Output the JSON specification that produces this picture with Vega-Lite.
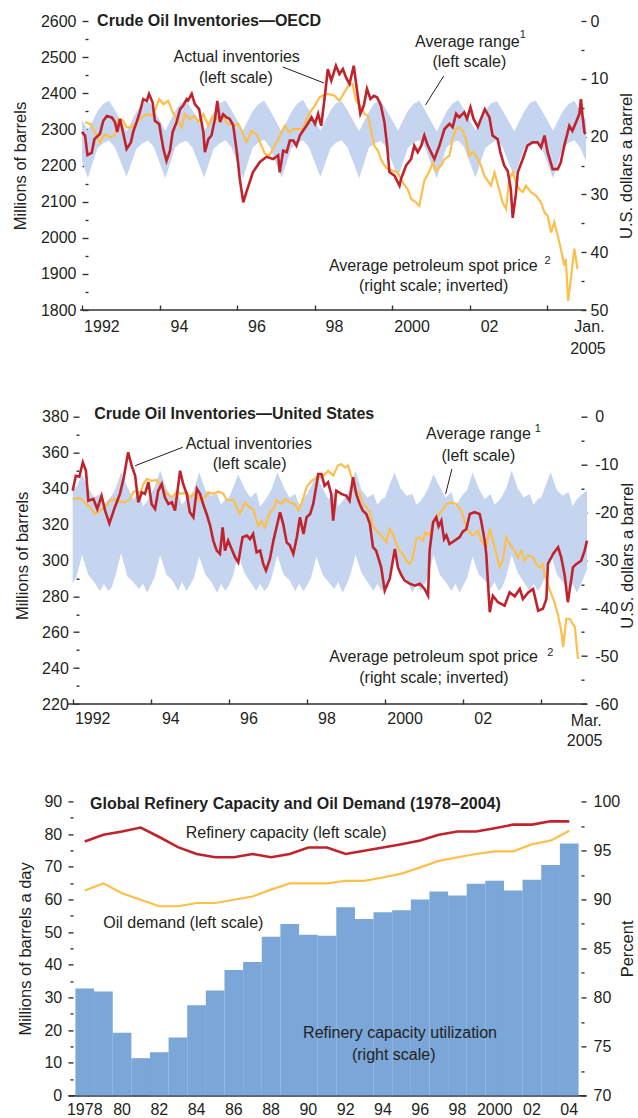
{
"$schema": "https://vega.github.io/schema/vega-lite/v6.json",
"background": "white",
"padding": {"left": 12, "top": 13, "right": 0, "bottom": 0},
"config": {
  "font": "Liberation Sans",
  "view": {"stroke": null},
  "axis": {"labelFont": "Liberation Sans", "labelFontSize": 16, "labelColor": "#231f20", "titleFont": "Liberation Sans", "titleFontSize": 16.5, "titleFontWeight": "normal", "titleColor": "#231f20", "grid": false, "tickColor": "#333333", "tickWidth": 1.4, "domainColor": "#333333", "domainWidth": 1.6, "labelOverlap": false, "labelFlush": false, "labelBound": false},
  "text": {"font": "Liberation Sans", "fontSize": 16, "fill": "#231f20"}
},
"datasets": {
  "band1": [
    {"t":1992.0,"lo":2212,"hi":2325},{"t":1992.15,"lo":2166,"hi":2297},{"t":1992.4,"lo":2248,"hi":2350},{"t":1992.55,"lo":2262,"hi":2371},{"t":1992.7,"lo":2269,"hi":2379},{"t":1992.85,"lo":2250,"hi":2353},
    {"t":1993.15,"lo":2169,"hi":2294},{"t":1993.4,"lo":2246,"hi":2348},{"t":1993.55,"lo":2260,"hi":2369},{"t":1993.7,"lo":2270,"hi":2381},{"t":1993.85,"lo":2252,"hi":2356},
    {"t":1994.15,"lo":2164,"hi":2296},{"t":1994.4,"lo":2250,"hi":2351},{"t":1994.55,"lo":2263,"hi":2373},{"t":1994.7,"lo":2268,"hi":2378},{"t":1994.85,"lo":2249,"hi":2352},
    {"t":1995.15,"lo":2167,"hi":2295},{"t":1995.4,"lo":2247,"hi":2349},{"t":1995.55,"lo":2261,"hi":2372},{"t":1995.7,"lo":2270,"hi":2380},{"t":1995.85,"lo":2251,"hi":2354},
    {"t":1996.15,"lo":2163,"hi":2297},{"t":1996.4,"lo":2249,"hi":2350},{"t":1996.55,"lo":2264,"hi":2370},{"t":1996.7,"lo":2271,"hi":2379},{"t":1996.85,"lo":2250,"hi":2353},
    {"t":1997.15,"lo":2166,"hi":2294},{"t":1997.4,"lo":2248,"hi":2348},{"t":1997.55,"lo":2262,"hi":2371},{"t":1997.7,"lo":2269,"hi":2381},{"t":1997.85,"lo":2252,"hi":2355},
    {"t":1998.15,"lo":2168,"hi":2296},{"t":1998.4,"lo":2246,"hi":2351},{"t":1998.55,"lo":2263,"hi":2372},{"t":1998.7,"lo":2270,"hi":2378},{"t":1998.85,"lo":2250,"hi":2352},
    {"t":1999.15,"lo":2165,"hi":2295},{"t":1999.4,"lo":2249,"hi":2349},{"t":1999.55,"lo":2261,"hi":2373},{"t":1999.7,"lo":2268,"hi":2380},{"t":1999.85,"lo":2251,"hi":2354},
    {"t":2000.15,"lo":2167,"hi":2297},{"t":2000.4,"lo":2247,"hi":2350},{"t":2000.55,"lo":2262,"hi":2370},{"t":2000.7,"lo":2270,"hi":2379},{"t":2000.85,"lo":2249,"hi":2353},
    {"t":2001.15,"lo":2164,"hi":2294},{"t":2001.4,"lo":2250,"hi":2348},{"t":2001.55,"lo":2264,"hi":2371},{"t":2001.7,"lo":2269,"hi":2381},{"t":2001.85,"lo":2252,"hi":2356},
    {"t":2002.15,"lo":2166,"hi":2296},{"t":2002.4,"lo":2248,"hi":2351},{"t":2002.55,"lo":2261,"hi":2372},{"t":2002.7,"lo":2271,"hi":2378},{"t":2002.85,"lo":2250,"hi":2352},
    {"t":2003.15,"lo":2168,"hi":2295},{"t":2003.4,"lo":2246,"hi":2349},{"t":2003.55,"lo":2263,"hi":2373},{"t":2003.7,"lo":2269,"hi":2380},{"t":2003.85,"lo":2251,"hi":2354},
    {"t":2004.15,"lo":2165,"hi":2297},{"t":2004.4,"lo":2249,"hi":2350},{"t":2004.55,"lo":2262,"hi":2370},{"t":2004.7,"lo":2270,"hi":2379},{"t":2004.85,"lo":2250,"hi":2353},
    {"t":2005.0,"lo":2212,"hi":2326}
  ],
  "inv1": [
    {"t":1992.00,"v":2293},{"t":1992.08,"v":2282},{"t":1992.14,"v":2229},{"t":1992.25,"v":2235},{"t":1992.32,"v":2273},{"t":1992.46,"v":2287},{"t":1992.55,"v":2324},{"t":1992.64,"v":2337},{"t":1992.77,"v":2333},{"t":1992.85,"v":2320},{"t":1992.91,"v":2293},{"t":1992.98,"v":2329},
    {"t":1993.05,"v":2296},{"t":1993.15,"v":2246},{"t":1993.26,"v":2264},{"t":1993.32,"v":2293},{"t":1993.41,"v":2320},{"t":1993.49,"v":2347},{"t":1993.58,"v":2384},{"t":1993.67,"v":2379},{"t":1993.73,"v":2398},{"t":1993.82,"v":2375},{"t":1993.88,"v":2324},{"t":1993.99,"v":2315},
    {"t":1994.10,"v":2246},{"t":1994.18,"v":2213},{"t":1994.27,"v":2241},{"t":1994.34,"v":2293},{"t":1994.44,"v":2320},{"t":1994.53,"v":2356},{"t":1994.61,"v":2366},{"t":1994.70,"v":2384},{"t":1994.74,"v":2380},{"t":1994.83,"v":2398},{"t":1994.91,"v":2370},
    {"t":1995.02,"v":2356},{"t":1995.13,"v":2293},{"t":1995.17,"v":2237},{"t":1995.26,"v":2273},{"t":1995.34,"v":2283},{"t":1995.43,"v":2329},{"t":1995.49,"v":2379},{"t":1995.56,"v":2320},{"t":1995.64,"v":2342},{"t":1995.73,"v":2333},{"t":1995.81,"v":2329},{"t":1995.90,"v":2311},
    {"t":1996.00,"v":2232},{"t":1996.07,"v":2163},{"t":1996.16,"v":2098},{"t":1996.24,"v":2126},{"t":1996.41,"v":2182},{"t":1996.59,"v":2210},{"t":1996.76,"v":2224},{"t":1996.93,"v":2218},
    {"t":1997.06,"v":2228},{"t":1997.10,"v":2181},{"t":1997.19,"v":2241},{"t":1997.28,"v":2237},{"t":1997.36,"v":2269},{"t":1997.45,"v":2269},{"t":1997.53,"v":2255},{"t":1997.62,"v":2283},{"t":1997.70,"v":2296},{"t":1997.79,"v":2310},{"t":1997.92,"v":2333},
    {"t":1998.01,"v":2315},{"t":1998.09,"v":2343},{"t":1998.17,"v":2310},{"t":1998.27,"v":2398},{"t":1998.34,"v":2467},{"t":1998.43,"v":2435},{"t":1998.55,"v":2476},{"t":1998.64,"v":2453},{"t":1998.73,"v":2467},{"t":1998.81,"v":2444},{"t":1998.90,"v":2426},
    {"t":1999.01,"v":2476},{"t":1999.10,"v":2403},{"t":1999.18,"v":2343},{"t":1999.27,"v":2366},{"t":1999.35,"v":2412},{"t":1999.44,"v":2384},{"t":1999.53,"v":2393},{"t":1999.61,"v":2389},{"t":1999.71,"v":2366},{"t":1999.80,"v":2320},{"t":1999.87,"v":2255},{"t":1999.93,"v":2182},
    {"t":2000.06,"v":2172},{"t":2000.19,"v":2144},{"t":2000.23,"v":2163},{"t":2000.36,"v":2200},{"t":2000.49,"v":2218},{"t":2000.57,"v":2255},{"t":2000.66,"v":2237},{"t":2000.75,"v":2255},{"t":2000.83,"v":2283},{"t":2000.92,"v":2255},
    {"t":2001.00,"v":2237},{"t":2001.09,"v":2218},{"t":2001.22,"v":2255},{"t":2001.35,"v":2301},{"t":2001.48,"v":2315},{"t":2001.56,"v":2306},{"t":2001.65,"v":2343},{"t":2001.73,"v":2333},{"t":2001.86,"v":2347},{"t":2001.93,"v":2329},
    {"t":2002.02,"v":2361},{"t":2002.10,"v":2329},{"t":2002.21,"v":2307},{"t":2002.29,"v":2329},{"t":2002.39,"v":2356},{"t":2002.51,"v":2333},{"t":2002.59,"v":2283},{"t":2002.72,"v":2273},{"t":2002.79,"v":2237},{"t":2002.89,"v":2200},{"t":2002.98,"v":2185},
    {"t":2003.06,"v":2135},{"t":2003.11,"v":2055},{"t":2003.19,"v":2120},{"t":2003.24,"v":2181},{"t":2003.37,"v":2218},{"t":2003.49,"v":2255},{"t":2003.62,"v":2264},{"t":2003.75,"v":2264},{"t":2003.84,"v":2250},{"t":2003.93,"v":2283},
    {"t":2004.01,"v":2237},{"t":2004.14,"v":2190},{"t":2004.27,"v":2190},{"t":2004.35,"v":2209},{"t":2004.44,"v":2255},{"t":2004.57,"v":2310},{"t":2004.65,"v":2296},{"t":2004.74,"v":2319},{"t":2004.83,"v":2343},{"t":2004.87,"v":2384},{"t":2004.91,"v":2338},{"t":2004.96,"v":2292},{"t":2004.99,"v":2287}
  ],
  "price1": [
    {"t":1992.08,"p":17.5},{"t":1992.21,"p":17.8},{"t":1992.34,"p":19.3},{"t":1992.46,"p":21.0},{"t":1992.59,"p":19.6},{"t":1992.72,"p":20.1},{"t":1992.85,"p":19.8},{"t":1992.94,"p":17.0},
    {"t":1993.06,"p":17.2},{"t":1993.15,"p":18.4},{"t":1993.28,"p":18.4},{"t":1993.41,"p":17.5},{"t":1993.54,"p":16.7},{"t":1993.67,"p":16.1},{"t":1993.80,"p":16.4},{"t":1993.88,"p":15.5},{"t":1993.99,"p":13.5},
    {"t":1994.10,"p":14.4},{"t":1994.22,"p":13.8},{"t":1994.34,"p":15.8},{"t":1994.44,"p":17.0},{"t":1994.57,"p":18.4},{"t":1994.65,"p":16.1},{"t":1994.78,"p":17.0},{"t":1994.91,"p":16.4},
    {"t":1995.00,"p":17.5},{"t":1995.13,"p":16.1},{"t":1995.26,"p":18.1},{"t":1995.38,"p":16.4},{"t":1995.51,"p":17.0},{"t":1995.64,"p":16.7},{"t":1995.77,"p":17.8},{"t":1995.90,"p":18.1},
    {"t":1996.03,"p":17.8},{"t":1996.14,"p":19.3},{"t":1996.24,"p":21.0},{"t":1996.37,"p":19.0},{"t":1996.50,"p":19.6},{"t":1996.59,"p":21.0},{"t":1996.72,"p":23.0},{"t":1996.83,"p":23.3},{"t":1996.93,"p":22.1},
    {"t":1997.06,"p":20.4},{"t":1997.17,"p":19.0},{"t":1997.23,"p":18.1},{"t":1997.36,"p":19.3},{"t":1997.45,"p":18.7},{"t":1997.58,"p":18.7},{"t":1997.70,"p":18.7},{"t":1997.79,"p":17.0},{"t":1997.88,"p":15.8},
    {"t":1998.01,"p":14.6},{"t":1998.13,"p":13.2},{"t":1998.21,"p":12.9},{"t":1998.34,"p":12.6},{"t":1998.51,"p":12.9},{"t":1998.64,"p":13.8},{"t":1998.77,"p":12.3},{"t":1998.90,"p":10.9},{"t":1998.98,"p":10.9},
    {"t":1999.07,"p":13.8},{"t":1999.20,"p":14.9},{"t":1999.29,"p":16.1},{"t":1999.37,"p":16.4},{"t":1999.46,"p":19.0},{"t":1999.54,"p":21.6},{"t":1999.63,"p":22.4},{"t":1999.71,"p":23.9},{"t":1999.80,"p":25.0},{"t":1999.89,"p":25.6},
    {"t":2000.14,"p":26.2},{"t":2000.27,"p":27.9},{"t":2000.40,"p":29.1},{"t":2000.49,"p":30.8},{"t":2000.62,"p":31.4},{"t":2000.70,"p":32.0},{"t":2000.83,"p":27.6},{"t":2000.96,"p":26.0},
    {"t":2001.05,"p":24.5},{"t":2001.13,"p":25.9},{"t":2001.26,"p":25.0},{"t":2001.35,"p":23.9},{"t":2001.48,"p":23.3},{"t":2001.56,"p":20.4},{"t":2001.65,"p":18.7},{"t":2001.73,"p":18.4},{"t":2001.82,"p":19.0},{"t":2001.90,"p":20.4},{"t":2001.99,"p":23.3},
    {"t":2002.08,"p":22.7},{"t":2002.16,"p":23.3},{"t":2002.29,"p":25.0},{"t":2002.38,"p":26.8},{"t":2002.55,"p":28.5},{"t":2002.64,"p":26.2},{"t":2002.76,"p":29.1},{"t":2002.85,"p":31.4},{"t":2002.94,"p":32.5},
    {"t":2003.02,"p":27.3},{"t":2003.11,"p":26.2},{"t":2003.19,"p":27.9},{"t":2003.28,"p":29.1},{"t":2003.37,"p":29.6},{"t":2003.45,"p":28.5},{"t":2003.58,"p":29.6},{"t":2003.71,"p":30.2},{"t":2003.84,"p":31.4},{"t":2003.93,"p":33.1},
    {"t":2004.01,"p":33.7},{"t":2004.10,"p":36.6},{"t":2004.18,"p":34.8},{"t":2004.27,"p":37.1},{"t":2004.35,"p":39.4},{"t":2004.44,"p":42.3},{"t":2004.48,"p":41.2},{"t":2004.54,"p":48.4},{"t":2004.61,"p":44.6},{"t":2004.70,"p":39.4},{"t":2004.78,"p":42.9}
  ],
  "band2": [
    {"t":1992.00,"hi":340,"lo":287},{"t":1992.10,"hi":341,"lo":291},{"t":1992.24,"hi":348,"lo":303},{"t":1992.40,"hi":340,"lo":292},{"t":1992.55,"hi":335,"lo":288},{"t":1992.70,"hi":337,"lo":283},{"t":1992.80,"hi":331,"lo":287},{"t":1992.91,"hi":334,"lo":283},
    {"t":1993.00,"hi":336,"lo":285},{"t":1993.10,"hi":340,"lo":292},{"t":1993.24,"hi":349,"lo":304},{"t":1993.40,"hi":341,"lo":291},{"t":1993.55,"hi":334,"lo":288},{"t":1993.70,"hi":338,"lo":284},{"t":1993.80,"hi":330,"lo":287},{"t":1993.91,"hi":333,"lo":282},
    {"t":1994.00,"hi":337,"lo":286},{"t":1994.10,"hi":341,"lo":291},{"t":1994.24,"hi":350,"lo":303},{"t":1994.40,"hi":340,"lo":292},{"t":1994.55,"hi":335,"lo":289},{"t":1994.70,"hi":337,"lo":283},{"t":1994.80,"hi":331,"lo":288},{"t":1994.91,"hi":334,"lo":283},
    {"t":1995.00,"hi":336,"lo":286},{"t":1995.10,"hi":339,"lo":290},{"t":1995.24,"hi":349,"lo":302},{"t":1995.40,"hi":339,"lo":292},{"t":1995.55,"hi":336,"lo":288},{"t":1995.70,"hi":337,"lo":282},{"t":1995.80,"hi":331,"lo":287},{"t":1995.91,"hi":334,"lo":283},
    {"t":1996.00,"hi":335,"lo":286},{"t":1996.10,"hi":340,"lo":291},{"t":1996.24,"hi":348,"lo":303},{"t":1996.40,"hi":340,"lo":293},{"t":1996.55,"hi":335,"lo":288},{"t":1996.70,"hi":338,"lo":283},{"t":1996.80,"hi":330,"lo":287},{"t":1996.91,"hi":333,"lo":283},
    {"t":1997.00,"hi":336,"lo":285},{"t":1997.10,"hi":340,"lo":291},{"t":1997.24,"hi":349,"lo":303},{"t":1997.40,"hi":341,"lo":292},{"t":1997.55,"hi":335,"lo":289},{"t":1997.70,"hi":337,"lo":283},{"t":1997.80,"hi":331,"lo":287},{"t":1997.91,"hi":334,"lo":283},
    {"t":1998.00,"hi":337,"lo":286},{"t":1998.10,"hi":341,"lo":290},{"t":1998.24,"hi":348,"lo":302},{"t":1998.40,"hi":340,"lo":292},{"t":1998.55,"hi":334,"lo":288},{"t":1998.70,"hi":338,"lo":284},{"t":1998.80,"hi":330,"lo":288},{"t":1998.91,"hi":333,"lo":282},
    {"t":1999.00,"hi":336,"lo":286},{"t":1999.10,"hi":340,"lo":291},{"t":1999.24,"hi":350,"lo":303},{"t":1999.40,"hi":339,"lo":293},{"t":1999.55,"hi":335,"lo":288},{"t":1999.70,"hi":337,"lo":283},{"t":1999.80,"hi":331,"lo":287},{"t":1999.91,"hi":334,"lo":283},
    {"t":2000.00,"hi":335,"lo":285},{"t":2000.10,"hi":341,"lo":292},{"t":2000.24,"hi":349,"lo":304},{"t":2000.40,"hi":340,"lo":291},{"t":2000.55,"hi":336,"lo":289},{"t":2000.70,"hi":337,"lo":282},{"t":2000.80,"hi":331,"lo":287},{"t":2000.91,"hi":333,"lo":283},
    {"t":2001.00,"hi":336,"lo":286},{"t":2001.10,"hi":340,"lo":291},{"t":2001.24,"hi":348,"lo":303},{"t":2001.40,"hi":341,"lo":292},{"t":2001.55,"hi":335,"lo":288},{"t":2001.70,"hi":338,"lo":283},{"t":2001.80,"hi":330,"lo":287},{"t":2001.91,"hi":334,"lo":282},
    {"t":2002.00,"hi":337,"lo":286},{"t":2002.10,"hi":339,"lo":290},{"t":2002.24,"hi":349,"lo":302},{"t":2002.40,"hi":340,"lo":292},{"t":2002.55,"hi":334,"lo":289},{"t":2002.70,"hi":337,"lo":284},{"t":2002.80,"hi":331,"lo":288},{"t":2002.91,"hi":333,"lo":283},
    {"t":2003.00,"hi":336,"lo":285},{"t":2003.10,"hi":340,"lo":291},{"t":2003.24,"hi":350,"lo":303},{"t":2003.40,"hi":340,"lo":293},{"t":2003.55,"hi":335,"lo":288},{"t":2003.70,"hi":337,"lo":283},{"t":2003.80,"hi":331,"lo":287},{"t":2003.91,"hi":334,"lo":283},
    {"t":2004.00,"hi":335,"lo":286},{"t":2004.10,"hi":341,"lo":291},{"t":2004.24,"hi":349,"lo":304},{"t":2004.40,"hi":339,"lo":292},{"t":2004.55,"hi":336,"lo":288},{"t":2004.70,"hi":338,"lo":283},{"t":2004.80,"hi":330,"lo":287},{"t":2004.91,"hi":334,"lo":282},
    {"t":2005.00,"hi":336,"lo":286},{"t":2005.17,"hi":339,"lo":295}
  ],
  "inv2": [
    {"t":1992.00,"v":338.8},{"t":1992.08,"v":347.1},{"t":1992.17,"v":346.6},{"t":1992.26,"v":354.6},{"t":1992.34,"v":349.9},{"t":1992.40,"v":333.2},{"t":1992.53,"v":334.2},{"t":1992.63,"v":328.6},{"t":1992.74,"v":336.0},{"t":1992.83,"v":327.7},{"t":1992.94,"v":320.6},
    {"t":1993.08,"v":329.6},{"t":1993.21,"v":337.0},{"t":1993.31,"v":346.3},{"t":1993.42,"v":360.2},{"t":1993.51,"v":352.7},{"t":1993.60,"v":347.1},{"t":1993.68,"v":332.3},{"t":1993.77,"v":337.9},{"t":1993.85,"v":337.0},{"t":1993.94,"v":343.5},
    {"t":1994.02,"v":331.4},{"t":1994.11,"v":328.6},{"t":1994.19,"v":338.8},{"t":1994.28,"v":342.5},{"t":1994.36,"v":335.1},{"t":1994.45,"v":331.4},{"t":1994.54,"v":332.3},{"t":1994.62,"v":327.7},{"t":1994.75,"v":349.9},{"t":1994.83,"v":342.5},{"t":1994.92,"v":337.0},
    {"t":1995.00,"v":326.8},{"t":1995.09,"v":324.0},{"t":1995.18,"v":339.8},{"t":1995.26,"v":337.0},{"t":1995.34,"v":331.4},{"t":1995.43,"v":325.8},{"t":1995.52,"v":319.3},{"t":1995.60,"v":311.0},{"t":1995.69,"v":305.4},{"t":1995.77,"v":303.6},{"t":1995.84,"v":318.4},{"t":1995.90,"v":305.4},{"t":1995.98,"v":311.0},
    {"t":1996.07,"v":306.3},{"t":1996.16,"v":301.7},{"t":1996.24,"v":298.9},{"t":1996.35,"v":312.9},{"t":1996.46,"v":313.8},{"t":1996.54,"v":311.9},{"t":1996.62,"v":314.7},{"t":1996.71,"v":304.5},{"t":1996.80,"v":305.4},{"t":1996.88,"v":298.0},{"t":1996.95,"v":294.3},
    {"t":1997.05,"v":300.8},{"t":1997.14,"v":311.0},{"t":1997.22,"v":318.4},{"t":1997.31,"v":326.8},{"t":1997.39,"v":320.3},{"t":1997.48,"v":310.0},{"t":1997.56,"v":308.4},{"t":1997.65,"v":303.6},{"t":1997.74,"v":312.9},{"t":1997.82,"v":324.0},{"t":1997.91,"v":314.7},{"t":1997.99,"v":324.0},
    {"t":1998.08,"v":325.8},{"t":1998.16,"v":331.4},{"t":1998.29,"v":348.1},{"t":1998.37,"v":348.1},{"t":1998.45,"v":341.6},{"t":1998.54,"v":343.5},{"t":1998.62,"v":337.0},{"t":1998.67,"v":322.1},{"t":1998.75,"v":338.8},{"t":1998.88,"v":337.0},
    {"t":1999.01,"v":336.0},{"t":1999.09,"v":333.2},{"t":1999.18,"v":346.3},{"t":1999.26,"v":337.0},{"t":1999.35,"v":331.4},{"t":1999.43,"v":327.7},{"t":1999.52,"v":325.8},{"t":1999.61,"v":320.3},{"t":1999.69,"v":307.3},{"t":1999.77,"v":305.4},{"t":1999.90,"v":296.1},{"t":1999.99,"v":283.1},
    {"t":2000.12,"v":290.0},{"t":2000.25,"v":306.3},{"t":2000.33,"v":296.0},{"t":2000.41,"v":292.0},{"t":2000.50,"v":288.7},{"t":2000.63,"v":287.0},{"t":2000.76,"v":285.9},{"t":2000.89,"v":287.0},
    {"t":2001.01,"v":284.1},{"t":2001.10,"v":280.3},{"t":2001.14,"v":305.4},{"t":2001.23,"v":321.2},{"t":2001.31,"v":324.0},{"t":2001.37,"v":319.0},{"t":2001.44,"v":322.1},{"t":2001.51,"v":311.9},{"t":2001.57,"v":314.0},{"t":2001.65,"v":309.1},{"t":2001.78,"v":311.0},{"t":2001.91,"v":312.9},{"t":2001.99,"v":316.0},
    {"t":2002.08,"v":317.5},{"t":2002.17,"v":325.8},{"t":2002.29,"v":326.8},{"t":2002.42,"v":325.8},{"t":2002.46,"v":322.1},{"t":2002.55,"v":311.0},{"t":2002.59,"v":303.6},{"t":2002.68,"v":271.1},{"t":2002.76,"v":280.3},{"t":2002.89,"v":276.7},
    {"t":2003.06,"v":274.8},{"t":2003.19,"v":282.2},{"t":2003.32,"v":280.0},{"t":2003.45,"v":284.1},{"t":2003.53,"v":278.5},{"t":2003.66,"v":282.0},{"t":2003.79,"v":284.1},{"t":2003.92,"v":272.0},
    {"t":2004.04,"v":273.0},{"t":2004.13,"v":278.5},{"t":2004.17,"v":298.0},{"t":2004.30,"v":303.6},{"t":2004.43,"v":307.3},{"t":2004.51,"v":301.7},{"t":2004.60,"v":291.5},{"t":2004.68,"v":276.7},{"t":2004.73,"v":284.0},{"t":2004.77,"v":289.6},{"t":2004.81,"v":296.1},{"t":2004.90,"v":298.0},
    {"t":2005.02,"v":299.8},{"t":2005.11,"v":305.4},{"t":2005.17,"v":311.0}
  ],
  "price2": [
    {"t":1992.00,"p":-17.2},{"t":1992.19,"p":-17.0},{"t":1992.31,"p":-17.9},{"t":1992.44,"p":-18.9},{"t":1992.57,"p":-20.3},{"t":1992.70,"p":-19.6},{"t":1992.83,"p":-18.9},{"t":1992.96,"p":-17.5},
    {"t":1993.08,"p":-17.2},{"t":1993.21,"p":-17.7},{"t":1993.34,"p":-17.9},{"t":1993.47,"p":-17.2},{"t":1993.55,"p":-15.8},{"t":1993.64,"p":-15.4},{"t":1993.72,"p":-16.1},{"t":1993.81,"p":-14.1},{"t":1993.90,"p":-13.0},
    {"t":1994.02,"p":-13.4},{"t":1994.15,"p":-13.2},{"t":1994.28,"p":-14.7},{"t":1994.41,"p":-16.1},{"t":1994.54,"p":-16.8},{"t":1994.66,"p":-15.8},{"t":1994.79,"p":-16.1},{"t":1994.92,"p":-15.8},
    {"t":1995.00,"p":-16.8},{"t":1995.13,"p":-16.1},{"t":1995.26,"p":-17.5},{"t":1995.39,"p":-16.8},{"t":1995.47,"p":-15.8},{"t":1995.60,"p":-16.1},{"t":1995.73,"p":-15.6},{"t":1995.86,"p":-16.1},{"t":1995.94,"p":-17.4},
    {"t":1996.11,"p":-17.4},{"t":1996.20,"p":-18.9},{"t":1996.28,"p":-20.3},{"t":1996.41,"p":-17.9},{"t":1996.54,"p":-19.0},{"t":1996.62,"p":-19.3},{"t":1996.75,"p":-22.8},{"t":1996.84,"p":-21.8},{"t":1996.92,"p":-23.1},
    {"t":1997.05,"p":-20.0},{"t":1997.14,"p":-19.3},{"t":1997.22,"p":-17.5},{"t":1997.35,"p":-18.2},{"t":1997.44,"p":-17.2},{"t":1997.56,"p":-17.9},{"t":1997.69,"p":-18.2},{"t":1997.78,"p":-19.6},{"t":1997.86,"p":-18.2},{"t":1997.99,"p":-14.7},
    {"t":1998.12,"p":-13.4},{"t":1998.25,"p":-12.7},{"t":1998.41,"p":-12.4},{"t":1998.54,"p":-11.3},{"t":1998.67,"p":-12.3},{"t":1998.79,"p":-10.2},{"t":1998.88,"p":-9.9},{"t":1998.97,"p":-10.6},
    {"t":1999.05,"p":-10.2},{"t":1999.13,"p":-12.3},{"t":1999.18,"p":-13.4},{"t":1999.26,"p":-15.5},{"t":1999.35,"p":-16.1},{"t":1999.43,"p":-18.2},{"t":1999.52,"p":-18.9},{"t":1999.61,"p":-20.0},{"t":1999.69,"p":-22.8},{"t":1999.77,"p":-23.8},{"t":1999.86,"p":-24.5},{"t":1999.94,"p":-25.2},
    {"t":2000.03,"p":-26.2},{"t":2000.12,"p":-23.4},{"t":2000.20,"p":-24.5},{"t":2000.29,"p":-26.6},{"t":2000.37,"p":-28.0},{"t":2000.46,"p":-28.7},{"t":2000.54,"p":-30.1},{"t":2000.63,"p":-30.8},{"t":2000.71,"p":-29.4},{"t":2000.80,"p":-25.5},{"t":2000.89,"p":-25.2},{"t":2000.97,"p":-25.9},
    {"t":2001.03,"p":-24.1},{"t":2001.14,"p":-24.8},{"t":2001.23,"p":-22.0},{"t":2001.31,"p":-21.0},{"t":2001.46,"p":-19.6},{"t":2001.57,"p":-18.2},{"t":2001.70,"p":-17.9},{"t":2001.82,"p":-18.2},{"t":2001.95,"p":-19.6},
    {"t":2002.04,"p":-22.0},{"t":2002.12,"p":-23.8},{"t":2002.25,"p":-24.8},{"t":2002.38,"p":-23.8},{"t":2002.46,"p":-25.9},{"t":2002.59,"p":-27.3},{"t":2002.68,"p":-23.4},{"t":2002.76,"p":-25.9},{"t":2002.85,"p":-28.7},{"t":2002.93,"p":-31.4},
    {"t":2003.02,"p":-30.0},{"t":2003.10,"p":-25.2},{"t":2003.19,"p":-26.6},{"t":2003.32,"p":-28.0},{"t":2003.40,"p":-29.4},{"t":2003.49,"p":-28.0},{"t":2003.57,"p":-30.1},{"t":2003.66,"p":-29.0},{"t":2003.79,"p":-29.4},{"t":2003.87,"p":-30.8},{"t":2003.96,"p":-31.4},
    {"t":2004.04,"p":-30.8},{"t":2004.09,"p":-33.2},{"t":2004.21,"p":-36.0},{"t":2004.34,"p":-38.8},{"t":2004.43,"p":-41.5},{"t":2004.51,"p":-44.7},{"t":2004.56,"p":-48.1},{"t":2004.64,"p":-42.2},{"t":2004.73,"p":-42.2},{"t":2004.86,"p":-44.0},{"t":2004.94,"p":-50.6}
  ],
  "refin": [
    {"year":1978,"capacity":77.7,"demand":62.7,"util":80.9},
    {"year":1979,"capacity":79.8,"demand":64.9,"util":80.6},
    {"year":1980,"capacity":80.8,"demand":61.9,"util":76.4},
    {"year":1981,"capacity":82.0,"demand":59.9,"util":73.8},
    {"year":1982,"capacity":79.1,"demand":57.9,"util":74.4},
    {"year":1983,"capacity":76.0,"demand":57.9,"util":75.9},
    {"year":1984,"capacity":73.9,"demand":58.9,"util":79.2},
    {"year":1985,"capacity":72.9,"demand":58.9,"util":80.7},
    {"year":1986,"capacity":72.9,"demand":59.9,"util":82.8},
    {"year":1987,"capacity":73.9,"demand":60.9,"util":83.6},
    {"year":1988,"capacity":72.9,"demand":63.0,"util":86.2},
    {"year":1989,"capacity":73.9,"demand":64.9,"util":87.5},
    {"year":1990,"capacity":75.9,"demand":64.9,"util":86.4},
    {"year":1991,"capacity":75.9,"demand":64.9,"util":86.3},
    {"year":1992,"capacity":73.9,"demand":65.7,"util":89.2},
    {"year":1993,"capacity":74.9,"demand":65.7,"util":88.0},
    {"year":1994,"capacity":75.9,"demand":66.7,"util":88.7},
    {"year":1995,"capacity":76.9,"demand":67.9,"util":88.9},
    {"year":1996,"capacity":78.0,"demand":69.8,"util":90.0},
    {"year":1997,"capacity":79.8,"demand":71.8,"util":90.8},
    {"year":1998,"capacity":80.8,"demand":72.9,"util":90.4},
    {"year":1999,"capacity":80.8,"demand":73.9,"util":91.6},
    {"year":2000,"capacity":81.8,"demand":74.7,"util":91.9},
    {"year":2001,"capacity":82.9,"demand":74.7,"util":90.9},
    {"year":2002,"capacity":82.9,"demand":76.9,"util":92.0},
    {"year":2003,"capacity":83.9,"demand":78.0,"util":93.5},
    {"year":2004,"capacity":83.9,"demand":81.0,"util":95.7}
  ]
},
"bounds": "flush",
"spacing": 96.7,
"vconcat": [
{
  "width": 518, "height": 289,
  "layer": [
    {"data": {"name": "band1"}, "mark": {"type": "area", "color": "#c5d5ef"},
     "encoding": {
       "x": {"field": "t", "type": "quantitative", "scale": {"domain": [1991.639, 2005], "nice": false, "zero": false},
             "axis": {"values": [1992,1993,1994,1995,1996,1997,1998,1999,2000,2001,2002,2003,2004,2005], "offset": -5, "tickSize": 5, "domain": false, "title": null, "labelPadding": 8, "labelOffset": 19.4, "labelOverlap": false,
                      "labelExpr": "datum.value == 1992 ? '1992' : datum.value == 1994 ? '94' : datum.value == 1996 ? '96' : datum.value == 1998 ? '98' : datum.value == 2000 ? '2000' : datum.value == 2002 ? '02' : ''"}},
       "y": {"field": "lo", "type": "quantitative", "scale": {"domain": [1800, 2600], "nice": false, "zero": false},
             "axis": {"orient": "left", "values": [1800,1850,1900,1950,2000,2050,2100,2150,2200,2250,2300,2350,2400,2450,2500,2550,2600], "format": "d", "labelExpr": "datum.value % 100 == 0 ? datum.label : ''", "offset": -20, "tickSize": {"condition": {"test": "datum.value % 100 == 0", "value": 6}, "value": 3}, "labelPadding": 6, "domain": false, "title": "Millions of barrels", "titlePadding": 12}},
       "y2": {"field": "hi"}}},
    {"data": {"name": "price1"}, "mark": {"type": "line", "color": "#fdbf4c", "strokeWidth": 2.2},
     "encoding": {
       "x": {"field": "t", "type": "quantitative"},
       "y": {"field": "p", "type": "quantitative", "scale": {"domain": [0, 50], "reverse": true, "nice": false, "zero": false},
             "axis": {"orient": "right", "values": [0,5,10,15,20,25,30,35,40,45,50], "labelExpr": "datum.value % 10 == 0 ? datum.label : ''", "offset": -5, "tickSize": {"condition": {"test": "datum.value % 10 == 0", "value": 5}, "value": 3}, "labelPadding": 4, "domain": false, "title": "U.S. dollars a barrel", "titleAngle": 270, "titleBaseline": "top", "titlePadding": 11}}}},
    {"layer": [
      {"data": {"name": "inv1"}, "mark": {"type": "line", "color": "#c1232d", "strokeWidth": 2.6},
       "encoding": {"x": {"field": "t", "type": "quantitative"}, "y": {"field": "v", "type": "quantitative", "scale": {"domain": [1800, 2600], "nice": false, "zero": false}, "axis": null}}},
      {"data": {"values": [{}]}, "mark": {"type": "rule", "color": "#333333", "strokeWidth": 1.6}, "encoding": {"x": {"datum": 1991.95}, "x2": {"datum": 2005}, "y": {"datum": 1800, "axis": null}}},
      {"data": {"values": [{}]}, "mark": {"type": "text", "align": "center", "baseline": "middle", "text": "Jan."}, "encoding": {"x": {"datum": 2005.09}, "y": {"datum": 1753, "axis": null}}},
      {"data": {"values": [{}]}, "mark": {"type": "text", "align": "center", "baseline": "middle", "text": "2005"}, "encoding": {"x": {"datum": 2005.05}, "y": {"datum": 1692, "axis": null}}},
      {"data": {"values": [{}]}, "mark": {"type": "text", "align": "left", "baseline": "middle", "fontWeight": "bold", "fontSize": 16, "text": "Crude Oil Inventories—OECD"}, "encoding": {"x": {"datum": 1992.39}, "y": {"datum": 2600, "axis": null}}},
      {"data": {"values": [{}]}, "mark": {"type": "text", "align": "center", "baseline": "middle", "text": "Actual inventories"}, "encoding": {"x": {"datum": 1995.99}, "y": {"datum": 2500.3, "axis": null}}},
      {"data": {"values": [{}]}, "mark": {"type": "text", "align": "center", "baseline": "middle", "text": "(left scale)"}, "encoding": {"x": {"datum": 1995.97}, "y": {"datum": 2442, "axis": null}}},
      {"data": {"values": [{}]}, "mark": {"type": "rule", "color": "#231f20", "strokeWidth": 1}, "encoding": {"x": {"datum": 1997.18}, "y": {"datum": 2472.7, "axis": null}, "x2": {"datum": 1998.24}, "y2": {"datum": 2428.4}}},
      {"data": {"values": [{}]}, "mark": {"type": "text", "align": "center", "baseline": "middle", "text": "Average range"}, "encoding": {"x": {"datum": 2001.94}, "y": {"datum": 2541.9, "axis": null}}},
      {"data": {"values": [{}]}, "mark": {"type": "text", "align": "left", "baseline": "middle", "fontSize": 11, "text": "1"}, "encoding": {"x": {"datum": 2003.29}, "y": {"datum": 2561, "axis": null}}},
      {"data": {"values": [{}]}, "mark": {"type": "text", "align": "center", "baseline": "middle", "text": "(left scale)"}, "encoding": {"x": {"datum": 2001.99}, "y": {"datum": 2486.5, "axis": null}}},
      {"data": {"values": [{}]}, "mark": {"type": "rule", "color": "#231f20", "strokeWidth": 1}, "encoding": {"x": {"datum": 2001.33}, "y": {"datum": 2447.8, "axis": null}, "x2": {"datum": 2000.86}, "y2": {"datum": 2367.5}}},
      {"data": {"values": [{}]}, "mark": {"type": "text", "align": "center", "baseline": "middle", "text": "Average petroleum spot price"}, "encoding": {"x": {"datum": 2001.06}, "y": {"datum": 1922.6, "axis": null}}},
      {"data": {"values": [{}]}, "mark": {"type": "text", "align": "left", "baseline": "middle", "fontSize": 11, "text": "2"}, "encoding": {"x": {"datum": 2003.93}, "y": {"datum": 1936.5, "axis": null}}},
      {"data": {"values": [{}]}, "mark": {"type": "text", "align": "center", "baseline": "middle", "text": "(right scale; inverted)"}, "encoding": {"x": {"datum": 2001.07}, "y": {"datum": 1867.3, "axis": null}}}
    ]}
  ],
  "resolve": {"scale": {"y": "independent"}}
},
{
  "width": 519, "height": 297.3,
  "layer": [
    {"data": {"name": "band2"}, "mark": {"type": "area", "color": "#c5d5ef"},
     "encoding": {
       "x": {"field": "t", "type": "quantitative", "scale": {"domain": [1991.88, 2005.17], "nice": false, "zero": false},
             "axis": {"values": [1992,1993,1994,1995,1996,1997,1998,1999,2000,2001,2002,2003,2004,2005], "offset": -5, "tickSize": 5, "domain": false, "title": null, "labelPadding": 6, "labelOffset": 19.5, "labelOverlap": false,
                      "labelExpr": "datum.value == 1992 ? '1992' : datum.value == 1994 ? '94' : datum.value == 1996 ? '96' : datum.value == 1998 ? '98' : datum.value == 2000 ? '2000' : datum.value == 2002 ? '02' : ''"}},
       "y": {"field": "lo", "type": "quantitative", "scale": {"domain": [220, 385.57], "nice": false, "zero": false},
             "axis": {"orient": "left", "values": [220,230,240,250,260,270,280,290,300,310,320,330,340,350,360,370,380], "labelExpr": "datum.value % 20 == 0 ? datum.label : ''", "offset": -11, "tickSize": {"condition": {"test": "datum.value % 20 == 0", "value": 6}, "value": 3}, "labelPadding": 4.7, "domain": false, "title": "Millions of barrels", "titlePadding": 10.8}},
       "y2": {"field": "hi"}}},
    {"data": {"name": "price2"}, "mark": {"type": "line", "color": "#fdbf4c", "strokeWidth": 2.2},
     "encoding": {
       "x": {"field": "t", "type": "quantitative"},
       "y": {"field": "p", "type": "quantitative", "scale": {"domain": [-60, 2.09], "nice": false, "zero": false},
             "axis": {"orient": "right", "values": [-60,-55,-50,-45,-40,-35,-30,-25,-20,-15,-10,-5,0], "labelExpr": "datum.value % 10 == 0 ? toString(datum.value) : ''", "offset": -6, "tickSize": {"condition": {"test": "datum.value % 10 == 0", "value": 6}, "value": 3}, "labelPadding": 7.7, "domain": false, "title": "U.S. dollars a barrel", "titleAngle": 270, "titleBaseline": "top", "titlePadding": 2}}}},
    {"layer": [
      {"data": {"name": "inv2"}, "mark": {"type": "line", "color": "#c1232d", "strokeWidth": 2.6},
       "encoding": {"x": {"field": "t", "type": "quantitative"}, "y": {"field": "v", "type": "quantitative", "scale": {"domain": [220, 385.57], "nice": false, "zero": false}, "axis": null}}},
      {"data": {"values": [{}]}, "mark": {"type": "rule", "color": "#333333", "strokeWidth": 1.6}, "encoding": {"x": {"datum": 1991.88}, "x2": {"datum": 2005.17}, "y": {"datum": 220, "axis": null}}},
      {"data": {"values": [{}]}, "mark": {"type": "text", "align": "center", "baseline": "middle", "text": "Mar."}, "encoding": {"x": {"datum": 2005.15}, "y": {"datum": 210.7, "axis": null}}},
      {"data": {"values": [{}]}, "mark": {"type": "text", "align": "center", "baseline": "middle", "text": "2005"}, "encoding": {"x": {"datum": 2005.11}, "y": {"datum": 199.6, "axis": null}}},
      {"data": {"values": [{}]}, "mark": {"type": "text", "align": "left", "baseline": "middle", "fontWeight": "bold", "fontSize": 16, "text": "Crude Oil Inventories—United States"}, "encoding": {"x": {"datum": 1992.55}, "y": {"datum": 381.5, "axis": null}}},
      {"data": {"values": [{}]}, "mark": {"type": "text", "align": "center", "baseline": "middle", "text": "Actual inventories"}, "encoding": {"x": {"datum": 1996.51}, "y": {"datum": 364.8, "axis": null}}},
      {"data": {"values": [{}]}, "mark": {"type": "text", "align": "center", "baseline": "middle", "text": "(left scale)"}, "encoding": {"x": {"datum": 1996.53}, "y": {"datum": 353.7, "axis": null}}},
      {"data": {"values": [{}]}, "mark": {"type": "rule", "color": "#231f20", "strokeWidth": 1}, "encoding": {"x": {"datum": 1994.82}, "y": {"datum": 363, "axis": null}, "x2": {"datum": 1993.6}, "y2": {"datum": 352.7}}},
      {"data": {"values": [{}]}, "mark": {"type": "text", "align": "center", "baseline": "middle", "text": "Average range"}, "encoding": {"x": {"datum": 2002.39}, "y": {"datum": 370.4, "axis": null}}},
      {"data": {"values": [{}]}, "mark": {"type": "text", "align": "left", "baseline": "middle", "fontSize": 11, "text": "1"}, "encoding": {"x": {"datum": 2003.83}, "y": {"datum": 373.2, "axis": null}}},
      {"data": {"values": [{}]}, "mark": {"type": "text", "align": "center", "baseline": "middle", "text": "(left scale)"}, "encoding": {"x": {"datum": 2002.39}, "y": {"datum": 358.3, "axis": null}}},
      {"data": {"values": [{}]}, "mark": {"type": "rule", "color": "#231f20", "strokeWidth": 1}, "encoding": {"x": {"datum": 2001.71}, "y": {"datum": 350.9, "axis": null}, "x2": {"datum": 2001.55}, "y2": {"datum": 337}}},
      {"data": {"values": [{}]}, "mark": {"type": "text", "align": "center", "baseline": "middle", "text": "Average petroleum spot price"}, "encoding": {"x": {"datum": 2001.24}, "y": {"datum": 246, "axis": null}}},
      {"data": {"values": [{}]}, "mark": {"type": "text", "align": "left", "baseline": "middle", "fontSize": 11, "text": "2"}, "encoding": {"x": {"datum": 2004.15}, "y": {"datum": 248.4, "axis": null}}},
      {"data": {"values": [{}]}, "mark": {"type": "text", "align": "center", "baseline": "middle", "text": "(right scale; inverted)"}, "encoding": {"x": {"datum": 2001.25}, "y": {"datum": 234.3, "axis": null}}}
    ]}
  ],
  "resolve": {"scale": {"y": "independent"}}
},
{
  "width": 518, "height": 294,
  "data": {"name": "refin"},
  "layer": [
    {"mark": {"type": "bar", "color": "#7aa6d8", "size": 18.7},
     "encoding": {
       "x": {"field": "year", "type": "quantitative", "scale": {"domain": [1977.1, 2004.9], "nice": false, "zero": false, "padding": 0},
             "axis": {"values": [1978,1980,1982,1984,1986,1988,1990,1992,1994,1996,1998,2000,2002,2004], "ticks": false, "labels": false, "domain": true, "title": null}},
       "y": {"field": "util", "type": "quantitative", "scale": {"domain": [70, 100], "nice": false, "zero": false},
             "axis": {"orient": "right", "values": [70,72.5,75,77.5,80,82.5,85,87.5,90,92.5,95,97.5,100], "labelExpr": "datum.value % 5 == 0 ? datum.label : ''", "offset": -5, "tickSize": {"condition": {"test": "datum.value % 5 == 0", "value": 5}, "value": 3}, "labelPadding": 7, "domain": false, "title": "Percent", "titleAngle": 270, "titleBaseline": "top", "titlePadding": 0}},
       "y2": {"datum": 70}}},
    {"mark": {"type": "line", "color": "#c1232d", "strokeWidth": 2.6},
     "encoding": {"x": {"field": "year", "type": "quantitative"},
                  "y": {"field": "capacity", "type": "quantitative", "scale": {"domain": [0, 90], "nice": false, "zero": false},
                        "axis": {"orient": "left", "values": [0,5,10,15,20,25,30,35,40,45,50,55,60,65,70,75,80,85,90], "labelExpr": "datum.value % 10 == 0 ? datum.label : ''", "offset": -5, "tickSize": {"condition": {"test": "datum.value % 10 == 0", "value": 5}, "value": 3}, "labelPadding": 6.3, "domain": false, "title": "Millions of barrels a day", "titlePadding": 10}}}},
    {"layer": [
      {"mark": {"type": "line", "color": "#fdbf4c", "strokeWidth": 2.2},
       "encoding": {"x": {"field": "year", "type": "quantitative"}, "y": {"field": "demand", "type": "quantitative", "scale": {"domain": [0, 90], "nice": false, "zero": false}, "axis": null}}},
      {"data": {"values": [{}]}, "mark": {"type": "text", "align": "left", "baseline": "middle", "fontWeight": "bold", "fontSize": 16, "text": "Global Refinery Capacity and Oil Demand (1978–2004)"}, "encoding": {"x": {"datum": 1978.28}, "y": {"datum": 89.2, "axis": null}}},
      {"data": {"values": [{}]}, "mark": {"type": "text", "align": "center", "baseline": "middle", "text": "Refinery capacity (left scale)"}, "encoding": {"x": {"datum": 1988.81}, "y": {"datum": 80.3, "axis": null}}},
      {"data": {"values": [{}]}, "mark": {"type": "text", "align": "center", "baseline": "middle", "text": "Oil demand (left scale)"}, "encoding": {"x": {"datum": 1983.29}, "y": {"datum": 52.8, "axis": null}}},
      {"data": {"values": [{}]}, "mark": {"type": "text", "align": "center", "baseline": "middle", "text": "Refinery capacity utilization"}, "encoding": {"x": {"datum": 1994.92}, "y": {"datum": 19.1, "axis": null}}},
      {"data": {"values": [{}]}, "mark": {"type": "text", "align": "center", "baseline": "middle", "text": "(right scale)"}, "encoding": {"x": {"datum": 1994.58}, "y": {"datum": 12.5, "axis": null}}},
      {"data": {"values": [{}]}, "mark": {"type": "text", "align": "center", "baseline": "middle", "text": "1978"}, "encoding": {"x": {"datum": 1978}, "y": {"datum": -4.4, "axis": null}}},
      {"data": {"values": [{}]}, "mark": {"type": "text", "align": "center", "baseline": "middle", "text": "80"}, "encoding": {"x": {"datum": 1980}, "y": {"datum": -4.4, "axis": null}}},
      {"data": {"values": [{}]}, "mark": {"type": "text", "align": "center", "baseline": "middle", "text": "82"}, "encoding": {"x": {"datum": 1982}, "y": {"datum": -4.4, "axis": null}}},
      {"data": {"values": [{}]}, "mark": {"type": "text", "align": "center", "baseline": "middle", "text": "84"}, "encoding": {"x": {"datum": 1984}, "y": {"datum": -4.4, "axis": null}}},
      {"data": {"values": [{}]}, "mark": {"type": "text", "align": "center", "baseline": "middle", "text": "86"}, "encoding": {"x": {"datum": 1986}, "y": {"datum": -4.4, "axis": null}}},
      {"data": {"values": [{}]}, "mark": {"type": "text", "align": "center", "baseline": "middle", "text": "88"}, "encoding": {"x": {"datum": 1988}, "y": {"datum": -4.4, "axis": null}}},
      {"data": {"values": [{}]}, "mark": {"type": "text", "align": "center", "baseline": "middle", "text": "90"}, "encoding": {"x": {"datum": 1990}, "y": {"datum": -4.4, "axis": null}}},
      {"data": {"values": [{}]}, "mark": {"type": "text", "align": "center", "baseline": "middle", "text": "92"}, "encoding": {"x": {"datum": 1992}, "y": {"datum": -4.4, "axis": null}}},
      {"data": {"values": [{}]}, "mark": {"type": "text", "align": "center", "baseline": "middle", "text": "94"}, "encoding": {"x": {"datum": 1994}, "y": {"datum": -4.4, "axis": null}}},
      {"data": {"values": [{}]}, "mark": {"type": "text", "align": "center", "baseline": "middle", "text": "96"}, "encoding": {"x": {"datum": 1996}, "y": {"datum": -4.4, "axis": null}}},
      {"data": {"values": [{}]}, "mark": {"type": "text", "align": "center", "baseline": "middle", "text": "98"}, "encoding": {"x": {"datum": 1998}, "y": {"datum": -4.4, "axis": null}}},
      {"data": {"values": [{}]}, "mark": {"type": "text", "align": "center", "baseline": "middle", "text": "2000"}, "encoding": {"x": {"datum": 2000}, "y": {"datum": -4.4, "axis": null}}},
      {"data": {"values": [{}]}, "mark": {"type": "text", "align": "center", "baseline": "middle", "text": "02"}, "encoding": {"x": {"datum": 2002}, "y": {"datum": -4.4, "axis": null}}},
      {"data": {"values": [{}]}, "mark": {"type": "text", "align": "center", "baseline": "middle", "text": "04"}, "encoding": {"x": {"datum": 2004}, "y": {"datum": -4.4, "axis": null}}}
    ]}
  ],
  "resolve": {"scale": {"y": "independent"}}
}
]
}
